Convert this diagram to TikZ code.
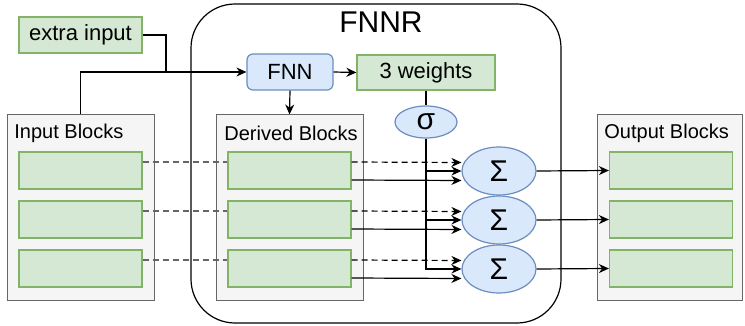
\documentclass[tikz,border=0pt]{standalone}
\usepackage{fontspec}
\setmainfont{Liberation Sans}
\definecolor{panelgray}{HTML}{F5F5F5}
\definecolor{panelline}{HTML}{666666}
\definecolor{cellgreen}{HTML}{D5E8D4}
\definecolor{cellline}{HTML}{82B366}
\definecolor{opblue}{HTML}{DAE8FC}
\definecolor{opline}{HTML}{6C8EBF}
\usetikzlibrary{
  shapes.geometric,
  arrows.meta,
  positioning
}

\begin{document}
\begin{tikzpicture}[
  x=0.5pt, y=-0.5pt,
  panel/.style={rectangle, draw=panelline, fill=panelgray, line width=0.5pt, minimum width=73.5pt, minimum height=92.5pt},
  paneltitle/.style={anchor=west, inner sep=0pt, font=\fontsize{10}{12}\selectfont},
  cell/.style={rectangle, draw=cellline, fill=cellgreen, line width=0.6pt, minimum width=61.5pt, minimum height=18.5pt, inner sep=0pt, font=\fontsize{11}{13}\selectfont},
  op/.style={rectangle, draw=opline, fill=opblue, rounded corners=3pt, line width=0.6pt, minimum width=43pt, minimum height=18pt, inner sep=0pt, font=\fontsize{11}{13}\selectfont},
  sumop/.style={ellipse, draw=opline, fill=opblue, line width=0.6pt, minimum width=37pt, minimum height=24pt, inner sep=0pt, font=\fontsize{15}{17}\selectfont},
  wire/.style={-{Stealth[length=5pt, width=4.5pt]}, line width=0.6pt},
  skip/.style={dashed, line width=0.7pt, panelline, dash pattern=on 3pt off 2pt}
]
  \useasboundingbox (0,0) rectangle (745,326);

  % FNNR module
  \node[rectangle, draw=black, fill=white, rounded corners=22pt, line width=0.6pt,
        minimum width=185pt, minimum height=159.5pt] (fnnr) at (376,163.5) {};
  \node[font=\fontsize{15}{18}\selectfont, inner sep=0pt] (fnnrtitle) at (381,22) {FNNR};

  % block groups
  \node[panel] (inp) at (80.5,207.5) {};
  \node[panel] (der) at (289.5,207.5) {};
  \node[panel, minimum width=72.5pt] (out) at (669.5,207.5) {};
  \node[paneltitle] (inptitle) at (14,133) {Input Blocks};
  \node[paneltitle] (dertitle) at (224,133) {Derived Blocks};
  \node[paneltitle] (outtitle) at (604,133) {Output Blocks};

  \node[cell] (in1) at (80.5,170.5) {};
  \node[cell] (in2) at (80.5,219.5) {};
  \node[cell] (in3) at (80.5,268.5) {};
  \node[cell] (dv1) at (289.5,170.5) {};
  \node[cell] (dv2) at (289.5,219.5) {};
  \node[cell] (dv3) at (289.5,268.5) {};
  \node[cell] (ob1) at (671,170.5) {};
  \node[cell] (ob2) at (671,219.5) {};
  \node[cell] (ob3) at (671,268.5) {};

  % weight network
  \node[cell, minimum height=18pt] (extra) at (80.5,35) {extra input};
  \node[op] (fnn) at (290,72) {FNN};
  \node[cell, minimum width=69pt, minimum height=17.5pt] (wts) at (426,72.5) {3 weights};
  \node[sumop, minimum width=31pt, minimum height=16pt, font=\fontsize{15}{17}\selectfont] (sig) at (426,122) {σ};

  \node[sumop] (sum1) at (499,171) {Σ};
  \node[sumop] (sum2) at (499,220) {Σ};
  \node[sumop] (sum3) at (499,269) {Σ};

  \coordinate (jn) at (166,72);

  \draw[line width=0.6pt] (extra.east) -| (jn);
  \draw[wire] (inp.north) |- (fnn.west);
  \draw[wire] (fnn.east) -- (wts.west);
  \draw[wire] (fnn.south) -- (der.north);
  \draw[line width=0.6pt] (wts.south) -- (sig.north);

  \draw[wire] (sig.south) |- (sum1.west);
  \draw[wire] (sig.south) |- (sum2.west);
  \draw[wire] (sig.south) |- (sum3.west);

  % skip connections from the input blocks
  \draw[skip] ([yshift=4.25pt]in1.east) -- ([yshift=4.25pt]dv1.west);
  \draw[skip] ([yshift=4.25pt]in2.east) -- ([yshift=4.25pt]dv2.west);
  \draw[skip] ([yshift=4.25pt]in3.east) -- ([yshift=4.25pt]dv3.west);
  \draw[wire, dashed, dash pattern=on 3pt off 2pt] ([yshift=4.25pt]dv1.east) -- ([yshift=4.25pt]sum1.west);
  \draw[wire, dashed, dash pattern=on 3pt off 2pt] ([yshift=4.25pt]dv2.east) -- ([yshift=4.25pt]sum2.west);
  \draw[wire, dashed, dash pattern=on 3pt off 2pt] ([yshift=4.25pt]dv3.east) -- ([yshift=4.25pt]sum3.west);

  % derived blocks into the sums
  \draw[wire] ([yshift=-4.75pt]dv1.east) -- ([yshift=-4.75pt]sum1.west);
  \draw[wire] ([yshift=-4.75pt]dv2.east) -- ([yshift=-4.75pt]sum2.west);
  \draw[wire] ([yshift=-4.75pt]dv3.east) -- ([yshift=-4.75pt]sum3.west);

  \draw[wire] (sum1.east) -- (ob1.west);
  \draw[wire] (sum2.east) -- (ob2.west);
  \draw[wire] (sum3.east) -- (ob3.west);
\end{tikzpicture}
\end{document}
